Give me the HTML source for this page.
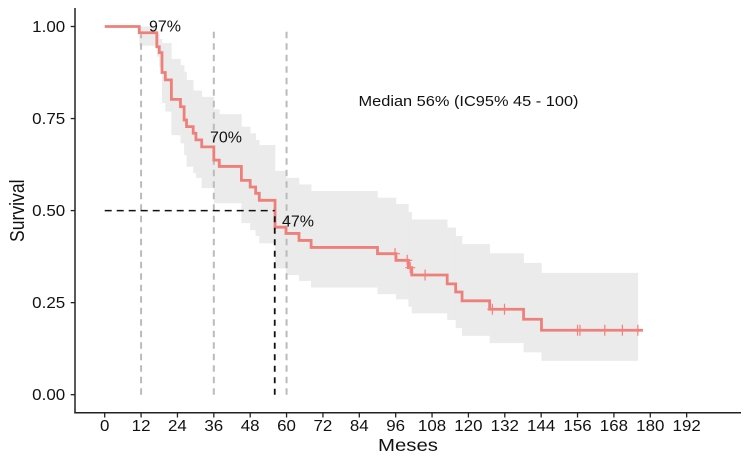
<!DOCTYPE html>
<html>
<head>
<meta charset="utf-8">
<title>Survival chart</title>
<style>
html,body{margin:0;padding:0;background:#fff;width:750px;height:462px;overflow:hidden}
svg{display:block;filter:blur(0.35px)}
text{font-family:"Liberation Sans",Arial,sans-serif;fill:#111}
</style>
</head>
<body>
<svg id="chart" width="750" height="462" viewBox="0 0 750 462" xmlns="http://www.w3.org/2000/svg">
  <g id="bands"></g>
  <g id="guides"></g>
  <g id="curve"></g>
  <g id="axes"></g>
  <text transform="translate(24,242) rotate(-90)" font-size="20.5" textLength="62.5" lengthAdjust="spacingAndGlyphs">Survival</text>
  <text x="378" y="451" font-size="17.5" textLength="60" lengthAdjust="spacingAndGlyphs">Meses</text>
  <text x="358.5" y="106" font-size="14.5" textLength="220" lengthAdjust="spacingAndGlyphs">Median 56% (IC95% 45 - 100)</text>
  <text x="149" y="31.7" font-size="15.5" textLength="32" lengthAdjust="spacingAndGlyphs">97%</text>
  <text x="210" y="142.5" font-size="15.5" textLength="32" lengthAdjust="spacingAndGlyphs">70%</text>
  <text x="282" y="226.5" font-size="15.5" textLength="32" lengthAdjust="spacingAndGlyphs">47%</text>
</svg>
<script>
const times = [0,11.4,17.2,18,18.9,20,22,25,26.2,27,29.2,30.1,32,36,37.8,45.1,48,49.8,51,56.2,59.8,64.1,68.1,90,96.1,100.2,101.3,113,115.8,117.9,127,138.2,144.1];
const survival = [1,.983,.945,.929,.875,.855,.802,.782,.746,.728,.71,.692,.673,.637,.62,.582,.564,.547,.528,.455,.438,.419,.4,.383,.365,.345,.325,.301,.279,.255,.232,.205,.175];
const upperCI = [1,1,.98,.966,.955,.955,.912,.895,.877,.855,.826,.826,.809,.775,.762,.728,.71,.692,.678,.608,.589,.571,.553,.535,.518,.496,.476,.454,.431,.409,.384,.358,.331];
const lowerCI = [1,.948,.918,.89,.792,.769,.705,.683,.651,.619,.602,.589,.561,.52,.52,.466,.447,.431,.411,.343,.325,.309,.291,.273,.259,.239,.221,.203,.181,.16,.14,.115,.092];
const bandEnd = 175.9;
const curveEnd = 177.6;
const censorTimes = [95.8,99.8,100.8,105.7,127.9,131.9,156,156.8,165,170.8,175.9];
const xTickLabels = [0,12,24,36,48,60,72,84,96,108,120,132,144,156,168,180,192];
const yTickLabels = ["0.00","0.25","0.50","0.75","1.00"];
const landmarkMonths = [12,36,60];
const landmarkSurvival = [.983,1,1];
const medianTime = 56.1;
const medianSurvival = 0.5;

const NS = "http://www.w3.org/2000/svg";
const X = t => 104.7 + t * 3.031;
const Y = s => 394.7 - s * 368.2;
function make(tag, parent, attrs) {
  const el = document.createElementNS(NS, tag);
  for (const k in attrs) el.setAttribute(k, attrs[k]);
  document.getElementById(parent).appendChild(el);
  return el;
}

// confidence band
for (let i = 1; i < times.length; i++) {
  const end = i + 1 < times.length ? times[i + 1] : bandEnd;
  const r = make("rect", "bands", {x: X(times[i]), y: Y(upperCI[i]), width: X(end) - X(times[i]) + 0.3, height: Y(lowerCI[i]) - Y(upperCI[i]), fill: "#ebebeb"});
  
  
}

// landmark guides
landmarkMonths.forEach((m, i) => {
  const l = make("line", "guides", {x1: X(m), x2: X(m), y1: Y(0), y2: Y(landmarkSurvival[i]) + 1.5, stroke: "#bbbbbb", "stroke-width": 2, "stroke-dasharray": "6.5 5"});
  
  
});

// survival step line
let d = "M" + X(times[0]) + " " + Y(survival[0]);
for (let i = 1; i < times.length; i++) {
  d += "H" + X(times[i]) + "V" + Y(survival[i]);
}
d += "H" + X(curveEnd);
const line = make("path", "curve", {d: d, fill: "none", stroke: "#ee807c", "stroke-width": 2.8});



// censor marks
function survivalAt(t) {
  let v = survival[0];
  for (let i = 0; i < times.length; i++) if (times[i] <= t) v = survival[i];
  return v;
}
censorTimes.forEach(t => {
  const s = survivalAt(t);
  const c = make("path", "curve", {d: "M" + (X(t) - 5) + " " + Y(s) + "H" + (X(t) + 5) + "M" + X(t) + " " + (Y(s) - 5.5) + "V" + (Y(s) + 5.5), fill: "none", stroke: "#f4807a", "stroke-width": 1.2});
  
  
});

// median guides
const medH = make("line", "curve", {x1: X(0), x2: X(medianTime), y1: Y(medianSurvival), y2: Y(medianSurvival), stroke: "#111", "stroke-width": 1.5, "stroke-dasharray": "7 5"});


const medV = make("line", "curve", {x1: X(medianTime), x2: X(medianTime), y1: Y(0), y2: Y(medianSurvival), stroke: "#111", "stroke-width": 1.8, "stroke-dasharray": "6 5.5"});



// axes
const yAxis = make("line", "axes", {x1: 75, x2: 75, y1: 8, y2: 413.5, stroke: "#222", "stroke-width": 1.5});


const xAxis = make("line", "axes", {x1: 74.3, x2: 741, y1: 412.8, y2: 412.8, stroke: "#222", "stroke-width": 1.5});



xTickLabels.forEach(v => {
  const tick = make("line", "axes", {x1: X(v), x2: X(v), y1: 413, y2: 417.5, stroke: "#222", "stroke-width": 1.3});
  
  
  const digits = String(v).length;
  const label = make("text", "axes", {x: X(v), y: 431, "text-anchor": "middle", "font-size": 15.5, textLength: digits * 9.4, lengthAdjust: "spacingAndGlyphs"});
  label.textContent = v;
  
  
});

yTickLabels.forEach(v => {
  const y = Y(parseFloat(v));
  const tick = make("line", "axes", {x1: 70.7, x2: 75, y1: y, y2: y, stroke: "#222", "stroke-width": 1.3});
  
  
  const label = make("text", "axes", {x: 32.2, y: y + 5.5, "font-size": 15.5, textLength: 33, lengthAdjust: "spacingAndGlyphs"});
  label.textContent = v;
  
  
});
</script>
</body>
</html>
